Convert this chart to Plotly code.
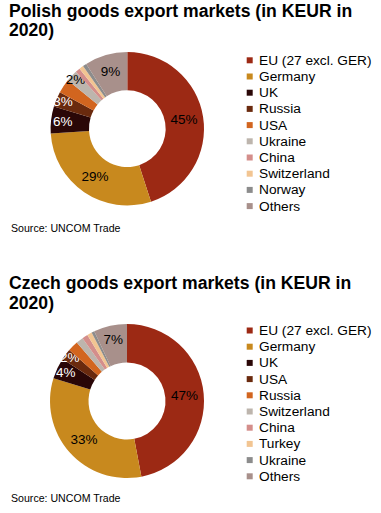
import plotly.graph_objects as go

# ---------------- data ----------------
pl_labels = ["EU (27 excl. GER)", "Germany", "UK", "Russia", "USA", "Ukraine",
             "China", "Switzerland", "Norway", "Others"]
pl_values = [45.0, 29.0, 5.7, 3.2, 3.0, 2.4, 1.0, 0.9, 0.8, 9.0]
pl_show_label = [True, True, True, True, False, True, False, False, False, True]

cz_labels = ["EU (27 excl. GER)", "Germany", "UK", "USA", "Russia", "Switzerland",
             "China", "Turkey", "Ukraine", "Others"]
cz_values = [47.0, 32.8, 4.4, 2.3, 2.2, 1.5, 1.2, 1.0, 0.6, 7.0]
cz_show_label = [True, True, True, True, False, False, False, False, False, True]

pl_title = ["Polish goods export markets (in KEUR in", "2020)"]
cz_title = ["Czech goods export markets (in KEUR in", "2020)"]
source_text = "Source: UNCOM Trade"

# ---------------- styles ----------------
palette = ["#9C2914", "#C8891E", "#2A0707", "#6A2A0E", "#D2651F",
           "#BDB5AD", "#D48E8B", "#F2C592", "#8C8C8C", "#A8908B"]
pl_text_colors = ["#000", "#000", "#fff", "#fff", "#fff", "#000", "#000", "#000", "#fff", "#000"]
cz_text_colors = ["#000", "#000", "#fff", "#fff", "#fff", "#000", "#000", "#000", "#fff", "#000"]

FONT = "Arial, Liberation Sans, sans-serif"
W, H = 381, 513


def px_x(v):  # window pixel -> paper x
    return v / W


def px_y(v):  # window pixel -> paper y
    return 1 - v / H


def donut(labels, values, show, tcolors, cx, cy, r):
    return go.Pie(
        labels=labels,
        values=values,
        hole=0.5,
        sort=False,
        direction="clockwise",
        rotation=0,
        marker=dict(colors=palette, line=dict(width=0)),
        texttemplate=["%{percent:.0%}" if s else "" for s in show],
        textposition="inside",
        insidetextorientation="horizontal",
        textfont=dict(family=FONT, size=13.5, color=tcolors),
        domain=dict(x=[px_x(cx - r), px_x(cx + r)], y=[px_y(cy + r), px_y(cy - r)]),
        showlegend=False,
        hoverinfo="label+value+percent",
    )


fig = go.Figure()
fig.add_trace(donut(pl_labels, pl_values, pl_show_label, pl_text_colors, 127.3, 128.7, 76.7))
fig.add_trace(donut(cz_labels, cz_values, cz_show_label, cz_text_colors, 127.0, 401.0, 77.0))

annotations = []
shapes = []

# titles
for lines, ys in ((pl_title, (10.5, 29.7)), (cz_title, (283.0, 303.0))):
    for txt, yy in zip(lines, ys):
        annotations.append(dict(
            text="<b>%s</b>" % txt, x=px_x(7), y=px_y(yy), xref="paper", yref="paper",
            xanchor="left", yanchor="middle", showarrow=False,
            font=dict(family=FONT, size=17.6, color="#000"),
        ))

# sources
for yy in (228.0, 498.0):
    annotations.append(dict(
        text=source_text, x=px_x(9), y=px_y(yy), xref="paper", yref="paper",
        xanchor="left", yanchor="middle", showarrow=False,
        font=dict(family=FONT, size=10.6, color="#000"),
    ))

# legends (one per donut, same palette order)
LEG_SQ_X0, LEG_SQ = 246.7, 6.0
LEG_TEXT_X = 257.0
LEG_STEP = 16.2
for labels, y0 in ((pl_labels, 60.3), (cz_labels, 330.5)):
    for i, (lab, col) in enumerate(zip(labels, palette)):
        yc = y0 + i * LEG_STEP
        shapes.append(dict(
            type="rect", xref="paper", yref="paper",
            x0=px_x(LEG_SQ_X0), x1=px_x(LEG_SQ_X0 + LEG_SQ),
            y0=px_y(yc + LEG_SQ / 2), y1=px_y(yc - LEG_SQ / 2),
            fillcolor=col, line=dict(width=0),
        ))
        annotations.append(dict(
            text=lab, x=px_x(LEG_TEXT_X), y=px_y(yc), xref="paper", yref="paper",
            xanchor="left", yanchor="middle", showarrow=False,
            font=dict(family=FONT, size=13.7, color="#000"),
        ))

fig.update_layout(
    width=W, height=H,
    margin=dict(l=0, r=0, t=0, b=0),
    paper_bgcolor="white", plot_bgcolor="white",
    font=dict(family=FONT, color="#000"),
    uniformtext=dict(mode="show", minsize=13.5),
    showlegend=False,
    annotations=annotations,
    shapes=shapes,
)

# remove the browser's default 8px body margin so the figure fills the window
fig.write_html(
    "out.html",
    config={"displayModeBar": False},
    post_script="document.body.style.margin='0';",
)
